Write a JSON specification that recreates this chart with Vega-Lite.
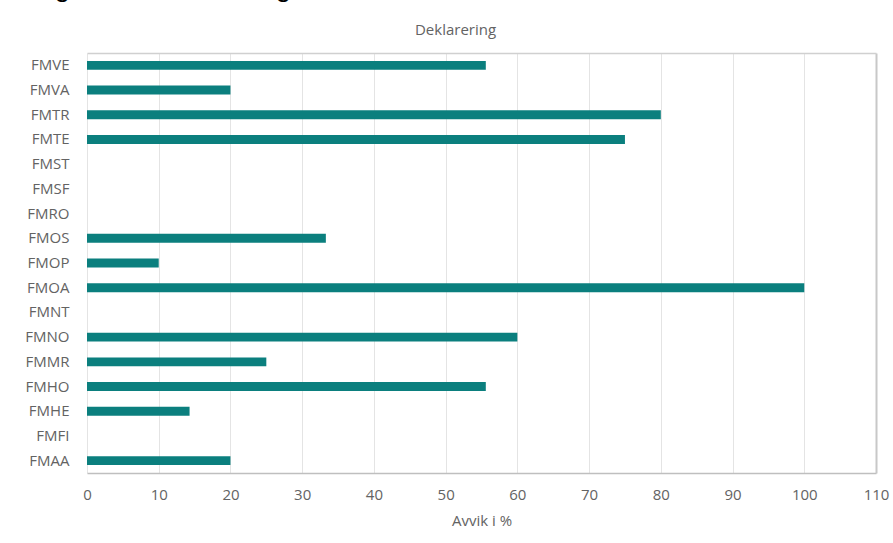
{
  "$schema": "https://vega.github.io/schema/vega-lite/v6.json",
  "autosize": {"type": "none"},
  "width": 789,
  "height": 420,
  "padding": {"left": 87, "top": 53, "right": 17, "bottom": 70},
  "background": "white",
  "title": {
    "text": "Farlig avfall-deklarering",
    "anchor": "start",
    "frame": "group",
    "font": "Liberation Sans",
    "fontSize": 28,
    "fontWeight": "normal",
    "color": "#000000",
    "dx": -87,
    "dy": 2,
    "baseline": "alphabetic",
    "offset": 0
  },
  "data": {
    "values": [
      {"enhet": "FMVE", "avvik": 55.6},
      {"enhet": "FMVA", "avvik": 20},
      {"enhet": "FMTR", "avvik": 80},
      {"enhet": "FMTE", "avvik": 75},
      {"enhet": "FMST", "avvik": 0},
      {"enhet": "FMSF", "avvik": 0},
      {"enhet": "FMRO", "avvik": 0},
      {"enhet": "FMOS", "avvik": 33.3},
      {"enhet": "FMOP", "avvik": 10},
      {"enhet": "FMOA", "avvik": 100},
      {"enhet": "FMNT", "avvik": 0},
      {"enhet": "FMNO", "avvik": 60},
      {"enhet": "FMMR", "avvik": 25},
      {"enhet": "FMHO", "avvik": 55.6},
      {"enhet": "FMHE", "avvik": 14.3},
      {"enhet": "FMFI", "avvik": 0},
      {"enhet": "FMAA", "avvik": 20}
    ]
  },
  "resolve": {"axis": {"x": "independent"}},
  "layer": [
    {
      "mark": {"type": "bar", "color": "#0b7f7e"},
      "encoding": {
        "y": {
          "field": "enhet",
          "type": "nominal",
          "sort": null,
          "scale": {"paddingInner": 0.64, "paddingOuter": 0.32},
          "axis": {
            "title": null,
            "ticks": false,
            "domain": false,
            "labelPadding": 18,
            "labelFont": "Open Sans",
            "labelFontSize": 15,
            "labelColor": "#636363"
          }
        },
        "x": {
          "field": "avvik",
          "type": "quantitative",
          "scale": {"domain": [0, 110], "nice": false},
          "axis": {
            "orient": "bottom",
            "values": [0, 10, 20, 30, 40, 50, 60, 70, 80, 90, 100, 110],
            "title": "Avvik i %",
            "titleFont": "Open Sans",
            "titleFontSize": 15,
            "titleFontWeight": "normal",
            "titleColor": "#636363",
            "titlePadding": 11,
            "labelFont": "Open Sans",
            "labelFontSize": 15,
            "labelColor": "#636363",
            "labelPadding": 14,
            "labelFlush": false,
            "ticks": false,
            "domain": true,
            "domainColor": "#bfbfbf",
            "domainWidth": 1.5,
            "grid": true,
            "gridColor": {"condition": {"test": "datum.value === 110", "value": "#c8c8c8"}, "value": "#e4e4e4"},
            "gridWidth": {"condition": {"test": "datum.value === 110", "value": 2}, "value": 1}
          }
        }
      }
    },
    {
      "mark": {"type": "bar", "opacity": 0},
      "encoding": {
        "y": {"field": "enhet", "type": "nominal", "sort": null},
        "x": {
          "field": "avvik",
          "type": "quantitative",
          "axis": {
            "orient": "top",
            "labels": false,
            "ticks": false,
            "grid": false,
            "domain": true,
            "domainColor": "#d0d0d0",
            "domainWidth": 1.5,
            "title": "Deklarering",
            "titleFont": "Open Sans",
            "titleFontSize": 15,
            "titleFontWeight": "normal",
            "titleColor": "#636363",
            "titleX": 368,
            "titleY": -24,
            "titleAlign": "center",
            "titleBaseline": "middle"
          }
        }
      }
    }
  ],
  "config": {
    "view": {"stroke": null}
  }
}
